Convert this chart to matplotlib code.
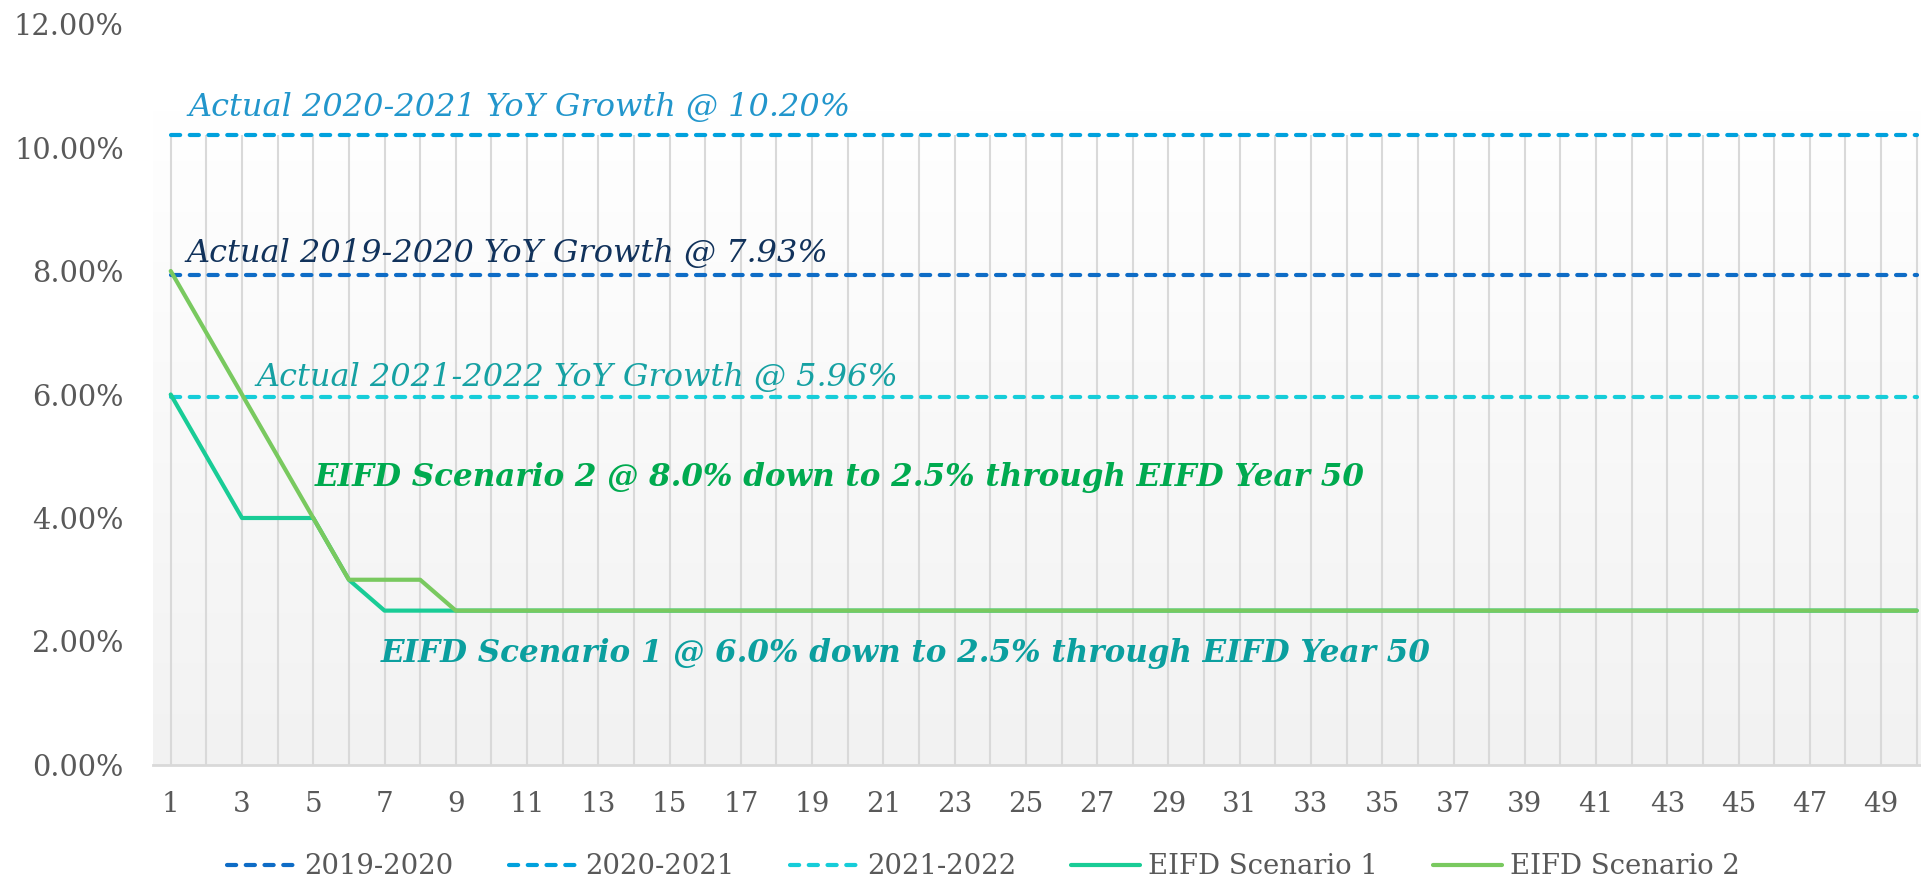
import matplotlib.pyplot as plt
import numpy as np

years = list(range(1, 51))
actual_2019_2020 = [7.93] * 50
actual_2020_2021 = [10.20] * 50
actual_2021_2022 = [5.96] * 50
scenario_1 = [6.0, 5.0, 4.0, 4.0, 4.0, 3.0] + [2.5] * 44
scenario_2 = [8.0, 7.0, 6.0, 5.0, 4.0, 3.0, 3.0, 3.0] + [2.5] * 42
y_ticks = [0, 2, 4, 6, 8, 10, 12]

FONT = "DejaVu Serif"
TICK_COLOR = "#595959"
GRID_COLOR = "#d9d9d9"


def main():
    plt.rcParams["font.family"] = FONT
    fig = plt.figure(figsize=(19.21, 8.8), dpi=100)
    ax = fig.add_axes([0.0796, 0.1307, 0.9204, 0.842])
    ax.set_xlim(0.5, 50.12)
    ax.set_ylim(0, 12)

    # plot area background: white at top fading to light gray at bottom
    grad = np.linspace(1.0, 0.0, 256).reshape(-1, 1)
    ax.imshow(grad, cmap=plt.matplotlib.colors.LinearSegmentedColormap.from_list(
        "bg", ["#f2f2f2", "#ffffff"]), aspect="auto",
        extent=(0.5, 50.6, 0, 10.6), zorder=0, origin="upper")

    ax.vlines(years, 0, max(actual_2020_2021), color=GRID_COLOR, linewidth=1.5, zorder=1)

    dash_kw = dict(linewidth=3.0, dashes=(2.2, 2.3), dash_capstyle="round", zorder=3)
    ax.plot(years, actual_2019_2020, color="#0e6cc6", label="2019-2020", **dash_kw)
    ax.plot(years, actual_2020_2021, color="#00a1dd", label="2020-2021", **dash_kw)
    ax.plot(years, actual_2021_2022, color="#16cdd9", label="2021-2022", **dash_kw)
    ax.plot(years, scenario_1, color="#19cc96", linewidth=3.0, solid_capstyle="round",
            label="EIFD Scenario 1", zorder=4)
    ax.plot(years, scenario_2, color="#79c95f", linewidth=3.0, solid_capstyle="round",
            label="EIFD Scenario 2", zorder=5)

    ax.text(1.51, 10.64, "Actual 2020-2021 YoY Growth @ 10.20%", color="#2296cc",
            fontsize=23, style="italic", va="center", zorder=6)
    ax.text(1.43, 8.29, "Actual 2019-2020 YoY Growth @ 7.93%", color="#11325b",
            fontsize=23, style="italic", va="center", zorder=6)
    ax.text(3.4, 6.28, "Actual 2021-2022 YoY Growth @ 5.96%", color="#16a1a3",
            fontsize=23, style="italic", va="center", zorder=6)
    ax.text(5.03, 4.65, "EIFD Scenario 2 @ 8.0% down to 2.5% through EIFD Year 50",
            color="#00aa4f", fontsize=22.3, style="italic", weight="bold", va="center", zorder=6)
    ax.text(6.9, 1.81, "EIFD Scenario 1 @ 6.0% down to 2.5% through EIFD Year 50",
            color="#0b9f9f", fontsize=22.3, style="italic", weight="bold", va="center", zorder=6)

    ax.set_yticks(y_ticks)
    ax.set_yticklabels([f"{v:.2f}%" for v in y_ticks])
    ax.set_xticks(years[::2])
    ax.set_xticklabels([str(v) for v in years[::2]])
    ax.tick_params(axis="y", length=0, pad=21, labelsize=20.7, labelcolor=TICK_COLOR)
    ax.tick_params(axis="x", length=0, pad=19, labelsize=20, labelcolor=TICK_COLOR)

    for side in ["top", "right", "left"]:
        ax.spines[side].set_visible(False)
    ax.spines["bottom"].set_color(GRID_COLOR)
    ax.spines["bottom"].set_linewidth(2)
    ax.spines["bottom"].set_zorder(2)

    fig.legend(loc="center", bbox_to_anchor=(0.512, 0.015), ncol=5, frameon=False,
               fontsize=19.8, handlelength=2.51, handletextpad=0.29, columnspacing=2.0,
               labelcolor=TICK_COLOR)

    fig.savefig("out.png", dpi=100)
    plt.close(fig)


if __name__ == "__main__":
    main()
